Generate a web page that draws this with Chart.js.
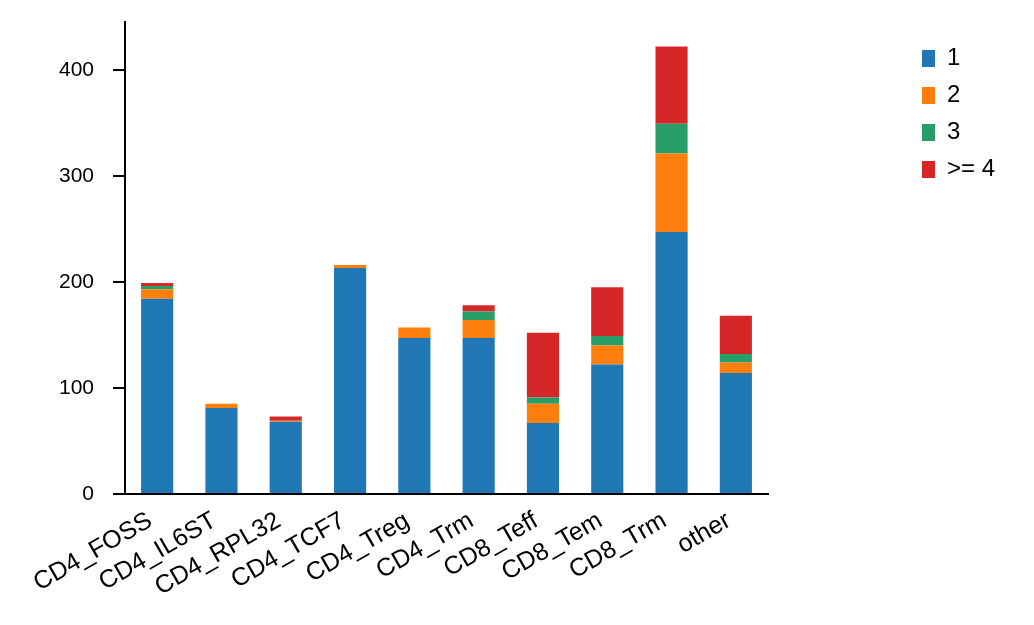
<!DOCTYPE html>
<html>
<head>
<meta charset="utf-8">
<script src="https://cdn.jsdelivr.net/npm/chart.js@4.4.1/dist/chart.umd.min.js"></script>
<style>
  html, body { margin: 0; padding: 0; background: #fff; }
  #wrap { width: 1034px; height: 625px; }
</style>
</head>
<body>
<div id="wrap"><canvas id="c" width="1034" height="625"></canvas></div>
<script>
const categories = ['CD4_FOSS', 'CD4_IL6ST', 'CD4_RPL32', 'CD4_TCF7', 'CD4_Treg', 'CD4_Trm', 'CD8_Teff', 'CD8_Tem', 'CD8_Trm', 'other'];
const seriesNames = ['1', '2', '3', '>= 4'];
const count1 = [184, 81, 68, 213, 147, 147, 67, 122, 247, 114];
const count2 = [9, 4, 1, 3, 10, 17, 18, 18, 74, 10];
const count3 = [3, 0, 0, 0, 0, 8, 6, 9, 28, 8];
const count4 = [3, 0, 4, 0, 0, 6, 61, 46, 73, 36];
const yTicks = [0, 100, 200, 300, 400];
const yMax = 445;

const colors = ['#1f77b4', '#ff7f0e', '#279e68', '#d62728'];
const seriesValues = [count1, count2, count3, count4];

Chart.defaults.font.family = "'Liberation Sans', Arial, sans-serif";
Chart.defaults.font.size = 21;
Chart.defaults.color = '#000';

const legendPlace = {
  id: 'legendPlace',
  beforeLayout(chart) {
    const l = chart.legend;
    if (l && !l._patched) {
      const f = l.fit;
      l.fit = function () { f.call(this); this.width = 266; };
      l._patched = true;
    }
  },
  afterLayout(chart) {
    const l = chart.legend;
    if (!l) return;
    const dx = 909 - l.left;
    l.left += dx; l.right += dx;
    const dy = 33.5 - l.top;
    l.top += dy; l.bottom += dy;
  }
};

new Chart(document.getElementById('c'), {
  type: 'bar',
  data: {
    labels: categories,
    datasets: seriesNames.map((name, i) => ({
      label: name,
      data: seriesValues[i],
      backgroundColor: colors[i],
      borderWidth: 0,
      categoryPercentage: 1.0,
      barPercentage: 0.5
    }))
  },
  options: {
    responsive: false,
    animation: false,
    layout: { padding: { top: 22, left: 25, right: 0, bottom: 0 } },
    plugins: {
      tooltip: { enabled: false },
      legend: {
        position: 'right',
        align: 'start',
        labels: {
          boxWidth: 13,
          boxHeight: 17,
          padding: 13,
          color: '#000',
          font: { size: 24 }
        }
      }
    },
    scales: {
      x: {
        stacked: true,
        offset: true,
        grid: { display: true, drawOnChartArea: false, drawTicks: false },
        border: { display: true, color: '#000', width: 2 },
        ticks: {
          autoSkip: false,
          maxRotation: 30,
          minRotation: 30,
          padding: 12,
          labelOffset: -7,
          color: '#000',
          font: { size: 25 }
        },
        afterFit(s) { s.height = 131; }
      },
      y: {
        stacked: true,
        min: 0,
        max: yMax,
        grid: { display: true, drawOnChartArea: false, drawTicks: true, tickLength: 12, color: '#000', lineWidth: 2 },
        border: { display: true, color: '#000', width: 2 },
        afterBuildTicks(s) { s.ticks = yTicks.map(v => ({ value: v })); },
        ticks: {
          padding: 19,
          color: '#000',
          font: { size: 21 }
        },
        afterFit(s) { s.width = 100; s.paddingTop = 0; s.paddingBottom = 0; }
      }
    }
  },
  plugins: [legendPlace]
});
</script>
</body>
</html>
